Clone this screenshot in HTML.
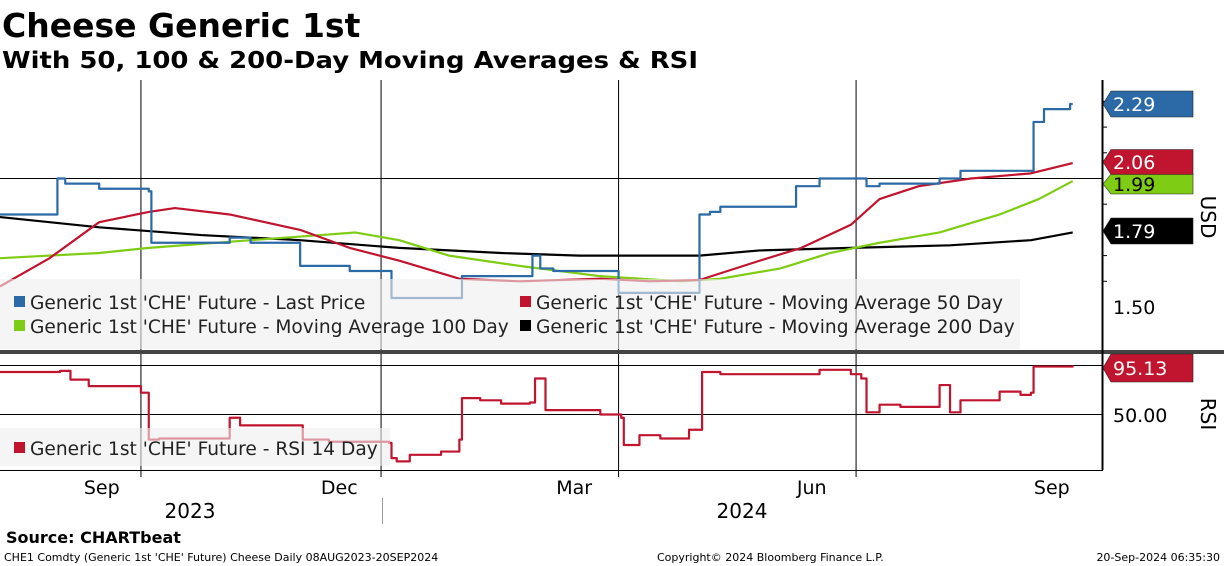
<!DOCTYPE html>
<html><head><meta charset="utf-8"><style>
html,body{margin:0;padding:0;background:#fff;}
svg{display:block;font-family:"DejaVu Sans","Liberation Sans",sans-serif;}
</style></head><body>
<svg id="chart" width="1224" height="566" viewBox="0 0 1224 566" xmlns="http://www.w3.org/2000/svg">
<text x="2" y="37" font-size="33" font-weight="bold">Cheese Generic 1st</text>
<text x="2" y="68" font-size="23" font-weight="bold" textLength="696" lengthAdjust="spacingAndGlyphs">With 50, 100 &amp; 200-Day Moving Averages &amp; RSI</text>
<g id="grid"></g>
<g id="series"></g>
<rect x="0" y="279" width="1020" height="70" fill="#eeeeee" fill-opacity="0.6"/>
<rect x="0" y="428" width="390" height="38" fill="#eeeeee" fill-opacity="0.6"/>
<g font-size="18.6" fill="#222">
<rect x="14" y="296" width="11" height="11" fill="#2b6aa6"/>
<text x="30" y="309">Generic 1st 'CHE' Future - Last Price</text>
<rect x="520" y="296" width="11" height="11" fill="#c0142f"/>
<text x="536" y="309">Generic 1st 'CHE' Future - Moving Average 50 Day</text>
<rect x="14" y="320" width="11" height="11" fill="#7fcc14"/>
<text x="30" y="333">Generic 1st 'CHE' Future - Moving Average 100 Day</text>
<rect x="520" y="320" width="11" height="11" fill="#000"/>
<text x="536" y="333">Generic 1st 'CHE' Future - Moving Average 200 Day</text>
<rect x="14" y="442" width="11" height="11" fill="#c0142f"/>
<text x="30" y="455">Generic 1st 'CHE' Future - RSI 14 Day</text>
</g>
<rect x="0" y="350" width="1224" height="4" fill="#444"/>
<line x1="1102.5" y1="80" x2="1102.5" y2="470" stroke="#000" stroke-width="2"/>
<line x1="0" y1="470.5" x2="1103" y2="470.5" stroke="#000" stroke-width="1"/>
<g id="tags"></g>
<text x="1113" y="314" font-size="19">1.50</text>
<text x="1113" y="422" font-size="19">50.00</text>
<text transform="translate(1201,217) rotate(90)" font-size="20" text-anchor="middle">USD</text>
<text transform="translate(1201,414) rotate(90)" font-size="20" text-anchor="middle">RSI</text>
<g id="xlabels" font-size="19" text-anchor="middle"></g>
<text x="190" y="518" font-size="20" text-anchor="middle">2023</text>
<text x="742" y="518" font-size="20" text-anchor="middle">2024</text>
<line x1="382.5" y1="498" x2="382.5" y2="524" stroke="#999"/>
<text x="6" y="543" font-size="16" font-weight="bold">Source: CHARTbeat</text>
<text x="4" y="561" font-size="11">CHE1 Comdty (Generic 1st 'CHE' Future) Cheese  Daily 08AUG2023-20SEP2024</text>
<text x="657" y="561" font-size="11">Copyright© 2024 Bloomberg Finance L.P.</text>
<text x="1220" y="561" font-size="11" text-anchor="end">20-Sep-2024 06:35:30</text>
</svg>
<script>
const priceDays=[0,22,25,38,57,58,88,96,115,134,150,177,204,207,212,237,268,272,276,305,314,332,337,360,368,396,400,410,411];
const priceVals=[1.86,2.00,1.98,1.96,1.95,1.75,1.77,1.75,1.66,1.64,1.535,1.62,1.70,1.65,1.64,1.555,1.86,1.87,1.89,1.97,2.00,1.97,1.98,2.00,2.03,2.22,2.27,2.29,2.29];
const ma50Days=[0,19,38,57,67,88,115,134,153,176,199,230,249,268,291,307,326,337,352,372,395,411];
const ma50Vals=[1.58,1.69,1.83,1.87,1.885,1.86,1.80,1.73,1.68,1.61,1.60,1.61,1.60,1.605,1.68,1.73,1.82,1.92,1.97,2.0,2.02,2.06];
const ma100Days=[0,38,57,96,123,136,153,172,199,230,261,276,299,318,337,360,383,398,411];
const ma100Vals=[1.69,1.71,1.73,1.76,1.78,1.79,1.76,1.70,1.66,1.62,1.60,1.61,1.65,1.71,1.75,1.79,1.86,1.92,1.99];
const ma200Days=[0,38,77,115,153,192,222,268,291,326,364,395,411];
const ma200Vals=[1.85,1.81,1.78,1.76,1.73,1.71,1.70,1.70,1.72,1.73,1.74,1.76,1.79];
const rsiDays=[0,23,27,34,54,57,61,88,92,115,116,126,149,150,152,157,169,176,177,184,192,203,205,209,230,238,239,245,253,264,268,269,276,307,314,326,330,332,337,345,356,360,364,368,383,391,395,396,411];
const rsiVals=[89,90,82,76,70,27,28,47,40,40,27,25,24,10,7,13,16,27,65,63,60,61,83,54,50,47,22,31,28,36,36,89,87,87,91,87,83,52,59,57,57,77,52,63,71,68,70,94,95.13];
const monthLabels=["Sep","Dec","Mar","Jun","Sep"];
const monthDays=[39,130,220,311,403];
const gridDays=[54,146,237,328];
const tagVals=["2.29","2.06","1.99","1.79"];

const NS="http://www.w3.org/2000/svg";
const x=d=>d*2.61;
const y=v=>307-(v-1.5)*257;
const yr=v=>469-v*1.09;
function mk(t,a,p){const e=document.createElementNS(NS,t);for(const k in a)e.setAttribute(k,a[k]);p.appendChild(e);return e;}
const grid=document.getElementById('grid');
gridDays.forEach(d=>{const l=mk('line',{x1:x(d),y1:80,x2:x(d),y2:470,stroke:'#000','stroke-width':1},grid);

});
[[y(2.0)],[yr(50)],[yr(95)]].forEach(([yy])=>{const l=mk('line',{x1:0,y1:yy,x2:1103,y2:yy,stroke:'#000','stroke-width':1},grid);

});
[1.6,1.7,1.8,1.9,2.1,2.2,2.3].forEach(v=>{const l=mk('line',{x1:1103,y1:y(v),x2:1107,y2:y(v),stroke:'#000'},grid);

});
const ser=document.getElementById('series');
function line(days,vals,ys,color,step,name){let d='';days.forEach((dd,i)=>{const X=x(dd),Y=ys(vals[i]);if(i===0)d+='M'+X+','+Y;else{if(step)d+='L'+X+','+ys(vals[i-1]);d+='L'+X+','+Y;}});
const p=mk('path',{d:d,fill:'none',stroke:color,'stroke-width':2.2,'stroke-linejoin':'round'},ser);

}
line(ma200Days,ma200Vals,y,'#000',false,'ma200-line');
line(ma100Days,ma100Vals,y,'#7fcc14',false,'ma100-line');
line(ma50Days,ma50Vals,y,'#c0142f',false,'ma50-line');
line(priceDays,priceVals,y,'#2b6aa6',true,'last-price-line');
line(rsiDays,rsiVals,yr,'#c0142f',true,'rsi-line');
const tags=document.getElementById('tags');
function tag(cy,h,fill,tc,txt,name){const g=mk('g',{},tags);


mk('path',{d:`M1103,${cy} L1111,${cy-h/2} L1193,${cy-h/2} L1193,${cy+h/2} L1111,${cy+h/2} Z`,fill:fill,stroke:'#222','stroke-width':0.6},g);
const t=mk('text',{x:1113,y:cy+7,'font-size':19,fill:tc},g);t.textContent=txt;}
tag(104,26,'#2b6aa6','#fff',tagVals[0],'tag-last-price');
tag(184,20,'#7fcc14','#000',tagVals[2],'tag-ma100');
tag(162,25,'#c0142f','#fff',tagVals[1],'tag-ma50');
tag(231,26,'#000','#fff',tagVals[3],'tag-ma200');
tag(368,28,'#c0142f','#fff',rsiVals[rsiVals.length-1].toFixed(2),'tag-rsi');
const xl=document.getElementById('xlabels');
monthLabels.forEach((m,i)=>{const t=mk('text',{x:x(monthDays[i]),y:494},xl);t.textContent=m;

});
gridDays.forEach(d=>{const l=mk('line',{x1:x(d),y1:470,x2:x(d),y2:477,stroke:'#000'},xl);

});
</script>
</body></html>
